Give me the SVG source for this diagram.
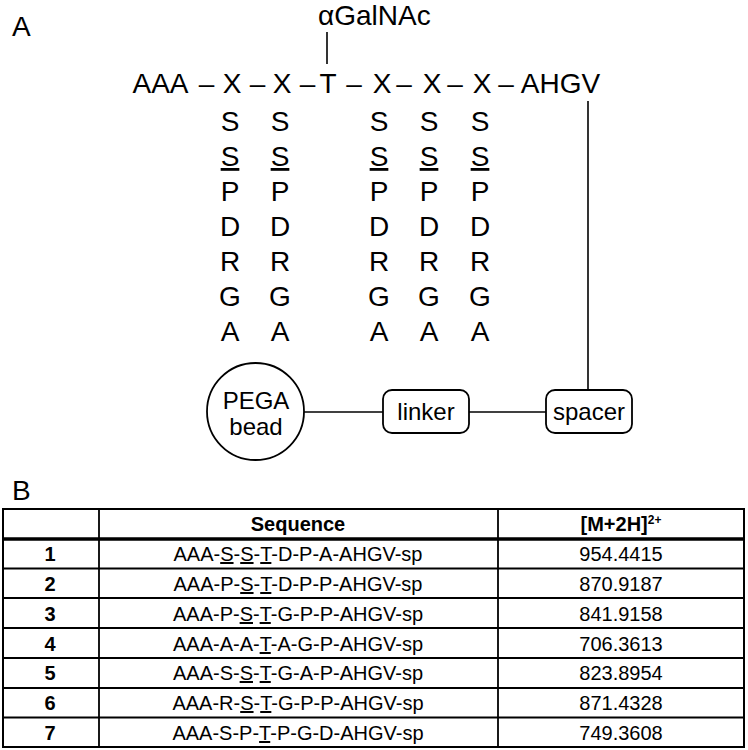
<svg xmlns="http://www.w3.org/2000/svg" width="748" height="750" viewBox="0 0 748 750">
<style>
text{font-family:"Liberation Sans",Arial,Helvetica,sans-serif;fill:#000}
.lbl{font-size:28px}
.seq{font-size:28px;text-anchor:middle}
.col{font-size:28px;text-anchor:middle}
.nd{font-size:24px;text-anchor:middle}
.ln{stroke:#000;stroke-width:1.6;fill:none}
.box{stroke:#000;stroke-width:1.8;fill:#fff}
.tb{font-size:20px;text-anchor:middle}
.tbb{font-size:20px;text-anchor:middle;font-weight:bold}
.grid{stroke:#000;stroke-width:1.8}
.u{text-decoration:underline}
</style>
<text class="lbl" x="12" y="36">A</text>
<text class="lbl" x="12" y="500">B</text>
<g id="glycan">
<text x="318" y="25" style="font-size:28px">αGalNAc</text>
</g>
<g id="peptide">
<text class="seq" x="160.5" y="93">AAA</text>
<text class="seq" x="206.5" y="93">–</text>
<text class="seq" x="232" y="93">X</text>
<text class="seq" x="257.5" y="93">–</text>
<text class="seq" x="282" y="93">X</text>
<text class="seq" x="307.5" y="93">–</text>
<text class="seq" x="328" y="93">T</text>
<text class="seq" x="354" y="93">–</text>
<text class="seq" x="382" y="93">X</text>
<text class="seq" x="404" y="93">–</text>
<text class="seq" x="432" y="93">X</text>
<text class="seq" x="455" y="93">–</text>
<text class="seq" x="482" y="93">X</text>
<text class="seq" x="506" y="93">–</text>
<text class="seq" x="560.5" y="93">AHGV</text>
</g>
<g id="options">
<g id="col1">
<text class="col" x="230" y="131">S</text>
<text class="col u" x="230" y="166">S</text>
<text class="col" x="230" y="201">P</text>
<text class="col" x="230" y="236">D</text>
<text class="col" x="230" y="271">R</text>
<text class="col" x="230" y="306">G</text>
<text class="col" x="230" y="341">A</text>
</g>
<g id="col2">
<text class="col" x="280" y="131">S</text>
<text class="col u" x="280" y="166">S</text>
<text class="col" x="280" y="201">P</text>
<text class="col" x="280" y="236">D</text>
<text class="col" x="280" y="271">R</text>
<text class="col" x="280" y="306">G</text>
<text class="col" x="280" y="341">A</text>
</g>
<g id="col3">
<text class="col" x="379" y="131">S</text>
<text class="col u" x="379" y="166">S</text>
<text class="col" x="379" y="201">P</text>
<text class="col" x="379" y="236">D</text>
<text class="col" x="379" y="271">R</text>
<text class="col" x="379" y="306">G</text>
<text class="col" x="379" y="341">A</text>
</g>
<g id="col4">
<text class="col" x="429" y="131">S</text>
<text class="col u" x="429" y="166">S</text>
<text class="col" x="429" y="201">P</text>
<text class="col" x="429" y="236">D</text>
<text class="col" x="429" y="271">R</text>
<text class="col" x="429" y="306">G</text>
<text class="col" x="429" y="341">A</text>
</g>
<g id="col5">
<text class="col" x="480" y="131">S</text>
<text class="col u" x="480" y="166">S</text>
<text class="col" x="480" y="201">P</text>
<text class="col" x="480" y="236">D</text>
<text class="col" x="480" y="271">R</text>
<text class="col" x="480" y="306">G</text>
<text class="col" x="480" y="341">A</text>
</g>
</g>
<g id="connectors">
<line class="ln" x1="327" y1="32" x2="327" y2="64"/>
<line class="ln" x1="588" y1="101" x2="588" y2="390"/>
<line class="ln" x1="304" y1="412" x2="383" y2="412"/>
<line class="ln" x1="469" y1="412" x2="546" y2="412"/>
</g>
<g id="pega">
<circle class="box" cx="255.5" cy="411.5" r="48.5"/>
<text class="nd" x="256" y="409">PEGA</text>
<text class="nd" x="256" y="435">bead</text>
</g>
<g id="linker">
<rect class="box" x="383" y="390" width="86" height="43" rx="9"/>
<text class="nd" x="426" y="420">linker</text>
</g>
<g id="spacer">
<rect class="box" x="546" y="390" width="86" height="43" rx="9"/>
<text class="nd" x="589" y="420">spacer</text>
</g>
<g id="table">
<rect x="3" y="509" width="741" height="238" fill="none" stroke="#000" stroke-width="2"/>
<line class="grid" x1="99" y1="509" x2="99" y2="747"/>
<line class="grid" x1="498" y1="509" x2="498" y2="747"/>
<line x1="3" y1="539" x2="744" y2="539" stroke="#000" stroke-width="3.5"/>
<line class="grid" x1="3" y1="568.5" x2="744" y2="568.5"/>
<line class="grid" x1="3" y1="598" x2="744" y2="598"/>
<line class="grid" x1="3" y1="628" x2="744" y2="628"/>
<line class="grid" x1="3" y1="658" x2="744" y2="658"/>
<line class="grid" x1="3" y1="688" x2="744" y2="688"/>
<line class="grid" x1="3" y1="717.5" x2="744" y2="717.5"/>
<text class="tbb" x="298" y="531">Sequence</text>
<text class="tbb" x="621" y="531">[M+2H]<tspan dy="-7" style="font-size:12px">2+</tspan></text>
<text class="tbb" x="50" y="561">1</text>
<text class="tb" x="298" y="561">AAA-<tspan class="u">S</tspan>-<tspan class="u">S</tspan>-<tspan class="u">T</tspan>-D-P-A-AHGV-sp</text>
<text class="tb" x="621" y="561">954.4415</text>
<text class="tbb" x="50" y="591">2</text>
<text class="tb" x="298" y="591">AAA-P-<tspan class="u">S</tspan>-<tspan class="u">T</tspan>-D-P-P-AHGV-sp</text>
<text class="tb" x="621" y="591">870.9187</text>
<text class="tbb" x="50" y="621">3</text>
<text class="tb" x="298" y="621">AAA-P-<tspan class="u">S</tspan>-<tspan class="u">T</tspan>-G-P-P-AHGV-sp</text>
<text class="tb" x="621" y="621">841.9158</text>
<text class="tbb" x="50" y="651">4</text>
<text class="tb" x="298" y="651">AAA-A-A-<tspan class="u">T</tspan>-A-G-P-AHGV-sp</text>
<text class="tb" x="621" y="651">706.3613</text>
<text class="tbb" x="50" y="680">5</text>
<text class="tb" x="298" y="680">AAA-S-<tspan class="u">S</tspan>-<tspan class="u">T</tspan>-G-A-P-AHGV-sp</text>
<text class="tb" x="621" y="680">823.8954</text>
<text class="tbb" x="50" y="710">6</text>
<text class="tb" x="298" y="710">AAA-R-<tspan class="u">S</tspan>-<tspan class="u">T</tspan>-G-P-P-AHGV-sp</text>
<text class="tb" x="621" y="710">871.4328</text>
<text class="tbb" x="50" y="740">7</text>
<text class="tb" x="298" y="740">AAA-S-P-<tspan class="u">T</tspan>-P-G-D-AHGV-sp</text>
<text class="tb" x="621" y="740">749.3608</text>
</g>
</svg>
